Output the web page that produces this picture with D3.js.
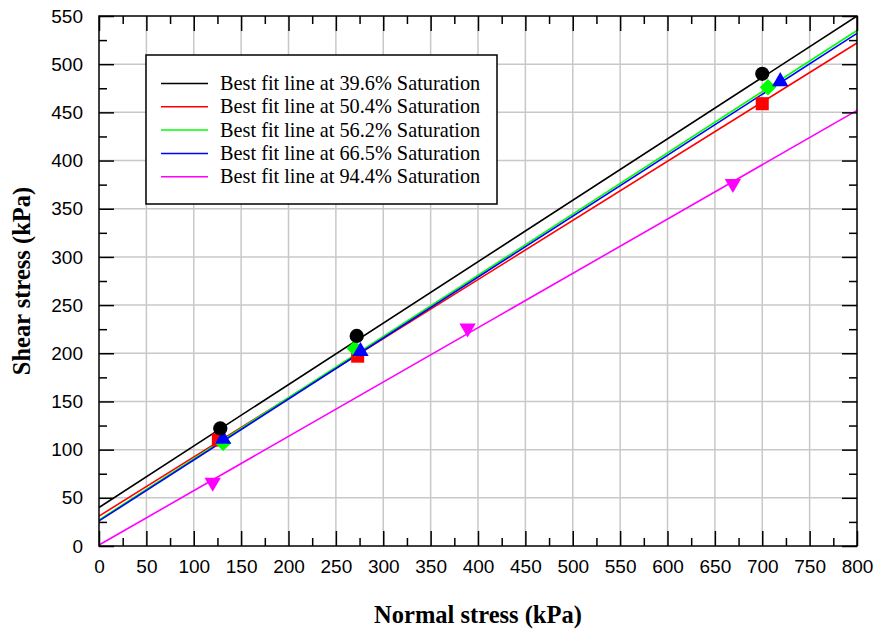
<!DOCTYPE html>
<html>
<head>
<meta charset="utf-8">
<script src="https://cdn.jsdelivr.net/npm/d3@7"></script>
<style>
  body { margin: 0; background: #fff; }
  svg { display: block; }
</style>
</head>
<body>
<div id="chart"></div>
<script>
// series names / colours
const seriesNames = ["39.6%", "50.4%", "56.2%", "66.5%", "94.4%"];
const seriesColors = ["#000000", "#ff0000", "#00ff00", "#0000ff", "#ff00ff"];
const seriesSymbols = ["circle", "square", "diamond", "triangle", "triangleDown"];

// best fit line end points, shear stress at normal stress 0 and 800
const fitX = [0, 800];
const fitY = [
  [40, 550],
  [31, 522],
  [27, 535],
  [26, 532],
  [1, 452]
];

// measured points (normal stress, shear stress)
const pointsX = [
  [128, 272, 700],
  [126, 273, 700],
  [131, 270, 706],
  [131, 276, 719],
  [120, 389, 669]
];
const pointsY = [
  [122, 218, 490],
  [110, 197, 459],
  [107, 205, 476],
  [111, 202, 482],
  [66, 226, 376]
];

const xTicks = d3.range(0, 801, 50);
const yTicks = d3.range(0, 551, 50);

const margin = { top: 16, right: 19, bottom: 87, left: 99 };
const W = 876, H = 633;
const width = W - margin.left - margin.right;
const height = H - margin.top - margin.bottom;

const svg = d3.select("#chart").append("svg")
  .attr("width", W).attr("height", H);

const g = svg.append("g")
  .attr("transform", "translate(" + margin.left + "," + margin.top + ")");

const x = d3.scaleLinear().domain([0, 800]).range([0, width]);
const y = d3.scaleLinear().domain([0, 550]).range([height, 0]);

// grid
g.append("g").selectAll("line").data(xTicks.slice(1, -1)).enter().append("line")
  .attr("x1", d => x(d)).attr("x2", d => x(d))
  .attr("y1", 0).attr("y2", height)
  .attr("stroke", "#c8c8c8").attr("stroke-width", 1.5);
g.append("g").selectAll("line").data(yTicks.slice(1, -1)).enter().append("line")
  .attr("y1", d => y(d)).attr("y2", d => y(d))
  .attr("x1", 0).attr("x2", width)
  .attr("stroke", "#c8c8c8").attr("stroke-width", 1.5);

g.append("defs").append("clipPath").attr("id", "clip")
  .append("rect").attr("width", width).attr("height", height);

// fit lines
const lines = g.append("g").attr("clip-path", "url(#clip)");
fitY.forEach((ys, i) => {
  lines.append("line")
    .attr("x1", x(fitX[0])).attr("y1", y(ys[0]))
    .attr("x2", x(fitX[1])).attr("y2", y(ys[1]))
    .attr("stroke", seriesColors[i]).attr("stroke-width", 1.6);
});

// markers
const symbolType = {
  circle: d3.symbolCircle,
  square: d3.symbolSquare,
  diamond: d3.symbolSquare,
  triangle: d3.symbolTriangle2,
  triangleDown: d3.symbolTriangle2
};
const symbolSize = { circle: 160, square: 170, diamond: 135, triangle: 190, triangleDown: 190 };
const drawOrder = [1, 2, 3, 4, 0];
drawOrder.forEach(i => {
  const s = seriesSymbols[i];
  const pts = pointsX[i].map((v, k) => [v, pointsY[i][k]]);
  g.append("g").selectAll("path").data(pts).enter().append("path")
    .attr("d", d3.symbol().type(symbolType[s]).size(symbolSize[s]))
    .attr("transform", d => "translate(" + x(d[0]) + "," + y(d[1]) + ")" +
      (s === "triangleDown" ? " rotate(180)" : "") +
      (s === "diamond" ? " rotate(45)" : ""))
    .attr("fill", seriesColors[i]);
});

// axes (ticks inward on all sides)
const tickFont = "'Liberation Sans', Arial, sans-serif";
function styleAxis(sel) {
  sel.select(".domain").remove();
  sel.selectAll("line").attr("stroke", "#000").attr("stroke-width", 1.5);
}
const xMinor = d3.range(0, 801, 25);
const yMinor = d3.range(0, 551, 25);

const xb = g.append("g").attr("transform", "translate(0," + height + ")")
  .call(d3.axisBottom(x).tickValues(xMinor).tickSize(-8).tickPadding(14)
    .tickFormat(d => d % 50 === 0 ? d : ""));
xb.selectAll(".tick").filter(d => d % 50 === 0).select("line").attr("y2", -15);
styleAxis(xb);
xb.selectAll("text").style("font-family", tickFont).style("font-size", "19px").attr("fill", "#000");

const xt = g.append("g")
  .call(d3.axisTop(x).tickValues(xMinor).tickSize(-8).tickFormat(""));
xt.selectAll(".tick").filter(d => d % 50 === 0).select("line").attr("y2", 15);
styleAxis(xt);

const yl = g.append("g")
  .call(d3.axisLeft(y).tickValues(yMinor).tickSize(-8).tickPadding(16)
    .tickFormat(d => d % 50 === 0 ? d : ""));
yl.selectAll(".tick").filter(d => d % 50 === 0).select("line").attr("x2", 15);
styleAxis(yl);
yl.selectAll("text").style("font-family", tickFont).style("font-size", "19px").attr("fill", "#000");

const yr = g.append("g").attr("transform", "translate(" + width + ",0)")
  .call(d3.axisRight(y).tickValues(yMinor).tickSize(-8).tickFormat(""));
yr.selectAll(".tick").filter(d => d % 50 === 0).select("line").attr("x2", -15);
styleAxis(yr);

// frame
g.append("rect").attr("width", width).attr("height", height)
  .attr("fill", "none").attr("stroke", "#000").attr("stroke-width", 1.5);

// axis titles
const serif = "'Liberation Serif', 'Times New Roman', serif";
svg.append("text")
  .attr("x", margin.left + width / 2).attr("y", 623)
  .attr("text-anchor", "middle")
  .style("font-family", serif).style("font-size", "24.5px").style("font-weight", "bold")
  .text("Normal stress (kPa)");
svg.append("text")
  .attr("transform", "translate(30," + (margin.top + height / 2) + ") rotate(-90)")
  .attr("text-anchor", "middle")
  .style("font-family", serif).style("font-size", "24.5px").style("font-weight", "bold")
  .text("Shear stress (kPa)");

// legend
const legend = svg.append("g").attr("transform", "translate(146,55)");
legend.append("rect").attr("width", 351).attr("height", 149)
  .attr("fill", "#fff").attr("stroke", "#000").attr("stroke-width", 1.5);
seriesNames.forEach((name, i) => {
  const ly = 28.5 + i * 23.3;
  legend.append("line")
    .attr("x1", 15).attr("x2", 62).attr("y1", ly).attr("y2", ly)
    .attr("stroke", seriesColors[i]).attr("stroke-width", 1.5);
  legend.append("text")
    .attr("x", 74).attr("y", ly + 6.5)
    .style("font-family", serif).style("font-size", "20.3px")
    .text("Best fit line at " + name + " Saturation");
});
</script>
</body>
</html>
